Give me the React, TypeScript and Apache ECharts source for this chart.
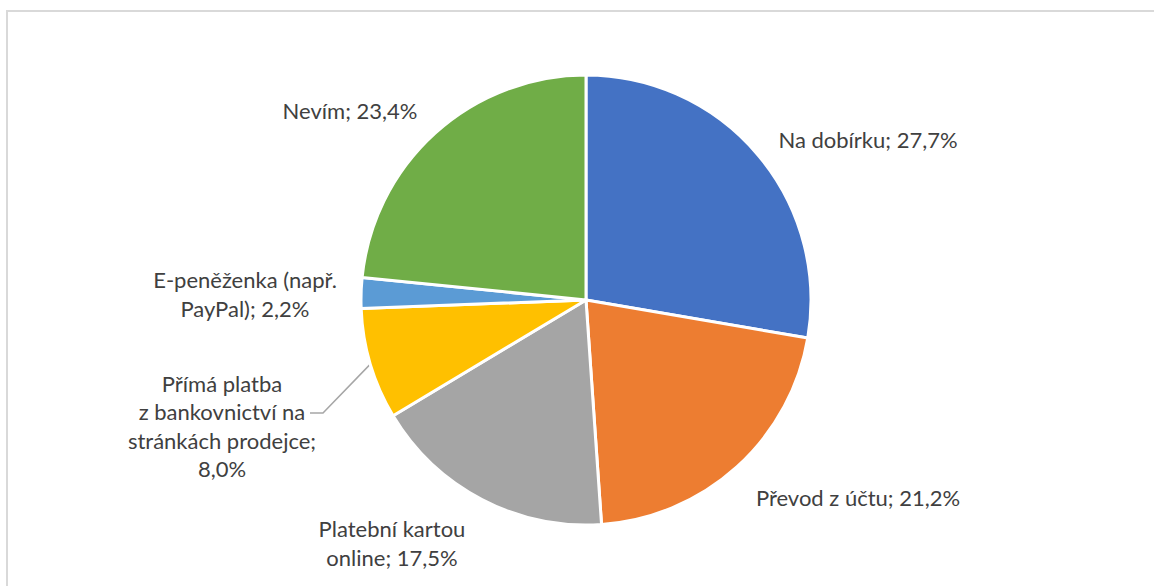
import React, { useEffect, useRef } from "react";
import * as echarts from "echarts";

const categories = [
  "Na dobírku",
  "Převod z účtu",
  "Platební kartou online",
  "Přímá platba z\u00a0bankovnictví na stránkách prodejce",
  "E-peněženka (např. PayPal)",
  "Nevím",
];
const values = [27.7, 21.2, 17.5, 8.0, 2.2, 23.4];
const colors = ["#4472C4", "#ED7D31", "#A5A5A5", "#FFC000", "#5B9BD5", "#70AD47"];

const FONT_SIZE = 22;
const FONT_FAMILY = "Lato";

function wrapText(text: string, maxWidth: number): string {
  const canvas = document.createElement("canvas");
  const ctx = canvas.getContext("2d");
  if (!ctx) return text;
  ctx.font = `${FONT_SIZE}px ${FONT_FAMILY}`;
  const words = text.split(" ");
  const lines: string[] = [];
  let cur = "";
  for (const w of words) {
    const trial = cur ? cur + " " + w : w;
    if (cur && ctx.measureText(trial).width > maxWidth) {
      lines.push(cur);
      cur = w;
    } else {
      cur = trial;
    }
  }
  if (cur) lines.push(cur);
  return lines.join("\n");
}

export default function App() {
  const ref = useRef<HTMLDivElement>(null);
  useEffect(() => {
    if (!ref.current) return;
    const chart = echarts.init(ref.current, null, { renderer: "svg" });
    const fmt = (v: number) => v.toFixed(1).replace(".", ",") + "%";
    const cx = 586;
    const cy = 300;
    const R = 225;
    // label wrap widths and label centre offsets from the pie centre
    const wrapWidths = [400, 400, 165, 200, 198, 400];
    const labelOffsets = [
      [282, -161],
      [272, 197],
      [-194, 243],
      [-364, 126],
      [-341, -6],
      [-236, -190],
    ];
    const total = values.reduce((a, b) => a + b, 0);
    const midAngle = (i: number) => {
      let acc = 0;
      for (let k = 0; k < i; k++) acc += values[k];
      return ((acc + values[i] / 2) / total) * Math.PI * 2;
    };
    chart.setOption({
      animation: false,
      backgroundColor: "#ffffff",
      graphic: [
        {
          type: "rect",
          shape: { x: 7, y: 11, width: 1170, height: 600 },
          style: { fill: "none", stroke: "#D9D9D9", lineWidth: 2 },
          silent: true,
        },
      ],
      series: [
        {
          type: "pie",
          center: [cx, cy],
          radius: R,
          startAngle: 90,
          clockwise: true,
          avoidLabelOverlap: false,
          itemStyle: { borderColor: "#ffffff", borderWidth: 3 },
          label: {
            show: true,
            position: "outside",
            color: "#404040",
            fontFamily: FONT_FAMILY,
            fontSize: FONT_SIZE,
            lineHeight: 28.5,
            align: "center",
            formatter: (p: any) =>
              wrapText(`${p.name}; ${fmt(p.value)}`, wrapWidths[p.dataIndex]),
          },
          labelLine: {
            show: false,
            length: 20,
            length2: 10,
            lineStyle: { color: "#A6A6A6", width: 1.5 },
          },
          labelLayout: (p: any) => {
            const i = p.dataIndex;
            const res: any = {
              x: cx + labelOffsets[i][0],
              y: cy + labelOffsets[i][1],
              align: "center",
              verticalAlign: "middle",
            };
            if (i === 3) {
              const a = midAngle(i);
              const ex = cx + R * Math.sin(a);
              const ey = cy - R * Math.cos(a);
              res.labelLinePoints = [
                [ex, ey],
                [cx - 263, cy + 113],
                [cx - 276, cy + 113],
              ];
            }
            return res;
          },
          data: categories.map((name, i) => ({
            name,
            value: values[i],
            itemStyle: { color: colors[i] },
            labelLine: { show: i === 3 },
          })),
        },
      ],
    });
    return () => chart.dispose();
  }, []);
  return (
    <div
      ref={ref}
      style={{ position: "absolute", left: 0, top: 0, width: 1154, height: 586 }}
    />
  );
}
